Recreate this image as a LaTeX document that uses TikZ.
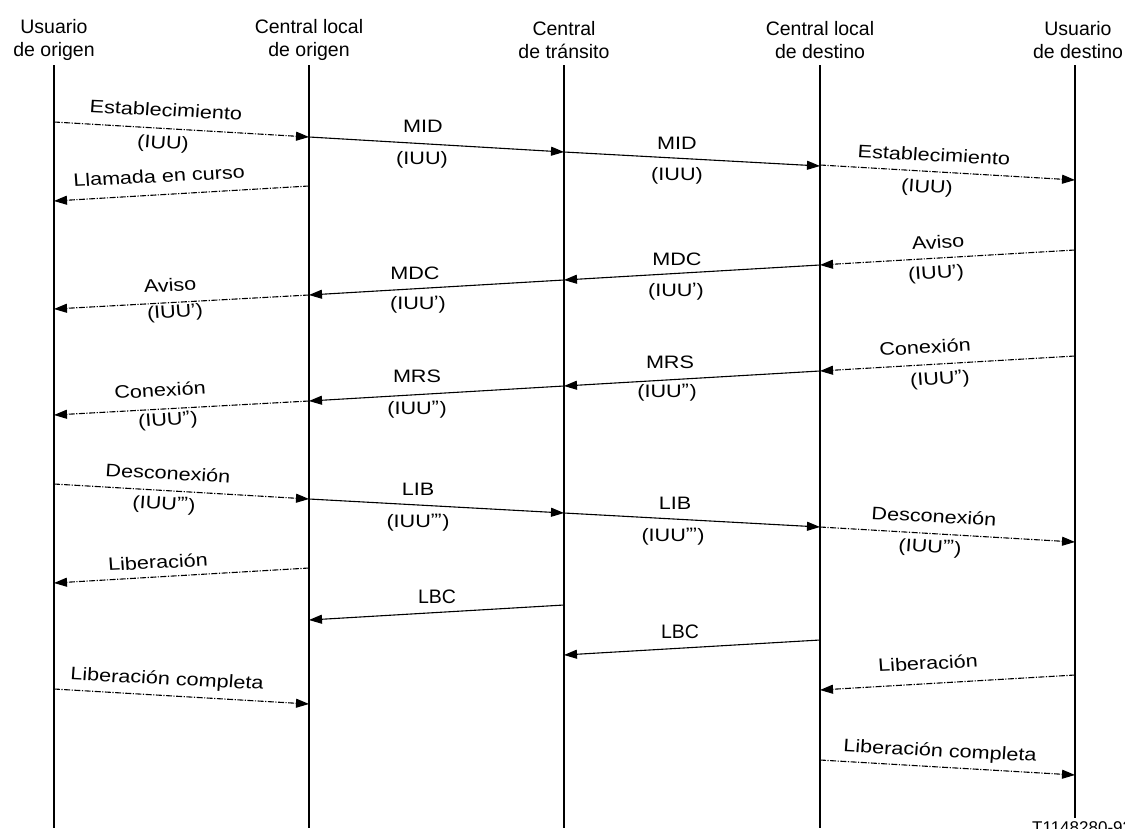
\documentclass[tikz,border=0pt]{standalone}
\usepackage{fontspec}
\setmainfont{Liberation Sans}
\usetikzlibrary{arrows.meta}

\tikzset{
  lifeline/.style={line width=1.6pt},
  hdr/.style={font=\fontsize{19.5}{23}\selectfont, align=center, inner sep=0pt},
  lbl/.style={font=\fontsize{18}{20}\selectfont, inner sep=0pt, xscale=1.2},
  tip/.style={-{Triangle[length=13pt,width=9pt]}},
  sig/.style={tip, line width=1.1pt},
  usr/.style={tip, line width=1.1pt, dash pattern=on 6pt off 1.5pt on 1.2pt off 1.5pt},
}
% prime marks after IUU
\newcommand{\pa}{\kern-0.5pt\raisebox{1pt}{’}}
\newcommand{\pb}{\kern-0.5pt\raisebox{1pt}{’\kern-1pt’}}
\newcommand{\pc}{\kern-0.5pt\raisebox{1pt}{’\kern-1pt’\kern-1pt’}}

\begin{document}
\begin{tikzpicture}[x=1pt, y=-1pt]
\useasboundingbox (0,0) rectangle (1125,828);

% participants
\node[hdr] (h1) at (54,40)   {Usuario\\de origen};
\node[hdr] (h2) at (309,40)  {Central local\\de origen};
\node[hdr] (h3) at (564,40)  {Central\\de tr\'ansito};
\node[hdr] (h4) at (820,40)  {Central local\\de destino};
\node[hdr] (h5) at (1078,40) {Usuario\\de destino};

% lifelines
\coordinate (t1) at (54,65);   \coordinate (b1) at (54,828);
\coordinate (t2) at (309,65);  \coordinate (b2) at (309,828);
\coordinate (t3) at (564,65);  \coordinate (b3) at (564,828);
\coordinate (t4) at (820,65);  \coordinate (b4) at (820,828);
\coordinate (t5) at (1075,65); \coordinate (b5) at (1075,818);
\foreach \i in {1,...,5} \draw[lifeline] (t\i) -- (b\i);

% message end points on the lifelines
\coordinate (m1a) at (54,122);   \coordinate (m1b) at (309,137);
\coordinate (m2a) at (309,137);  \coordinate (m2b) at (564,152);
\coordinate (m3a) at (564,152);  \coordinate (m3b) at (820,166);
\coordinate (m4a) at (820,165);  \coordinate (m4b) at (1075,180);
\coordinate (m5a) at (309,186);  \coordinate (m5b) at (54,201);
\coordinate (m6a) at (1075,250); \coordinate (m6b) at (820,265);
\coordinate (m7a) at (820,265);  \coordinate (m7b) at (564,280);
\coordinate (m8a) at (564,280);  \coordinate (m8b) at (309,295);
\coordinate (m9a) at (309,295);  \coordinate (m9b) at (54,309);
\coordinate (m10a) at (1075,356); \coordinate (m10b) at (820,371);
\coordinate (m11a) at (820,371);  \coordinate (m11b) at (564,386);
\coordinate (m12a) at (564,386);  \coordinate (m12b) at (309,401);
\coordinate (m13a) at (309,401);  \coordinate (m13b) at (54,415);
\coordinate (m14a) at (54,484);   \coordinate (m14b) at (309,499);
\coordinate (m15a) at (309,499);  \coordinate (m15b) at (564,513);
\coordinate (m16a) at (564,513);  \coordinate (m16b) at (820,527);
\coordinate (m17a) at (820,527);  \coordinate (m17b) at (1075,542);
\coordinate (m18a) at (309,568);  \coordinate (m18b) at (54,583);
\coordinate (m19a) at (564,605);  \coordinate (m19b) at (309,620);
\coordinate (m20a) at (820,640);  \coordinate (m20b) at (564,655);
\coordinate (m21a) at (1075,675); \coordinate (m21b) at (820,690);
\coordinate (m22a) at (54,689);   \coordinate (m22b) at (309,704);
\coordinate (m23a) at (820,760);  \coordinate (m23b) at (1075,775);

% messages
\draw[usr] (m1a) -- (m1b);
\draw[sig] (m2a) -- (m2b);
\draw[sig] (m3a) -- (m3b);
\draw[usr] (m4a) -- (m4b);
\draw[usr] (m5a) -- (m5b);
\draw[usr] (m6a) -- (m6b);
\draw[sig] (m7a) -- (m7b);
\draw[sig] (m8a) -- (m8b);
\draw[usr] (m9a) -- (m9b);
\draw[usr] (m10a) -- (m10b);
\draw[sig] (m11a) -- (m11b);
\draw[sig] (m12a) -- (m12b);
\draw[usr] (m13a) -- (m13b);
\draw[usr] (m14a) -- (m14b);
\draw[sig] (m15a) -- (m15b);
\draw[sig] (m16a) -- (m16b);
\draw[usr] (m17a) -- (m17b);
\draw[usr] (m18a) -- (m18b);
\draw[sig] (m19a) -- (m19b);
\draw[sig] (m20a) -- (m20b);
\draw[usr] (m21a) -- (m21b);
\draw[usr] (m22a) -- (m22b);
\draw[usr] (m23a) -- (m23b);

% labels
\node[lbl, rotate=-3.4] (l1)  at (166,110) {Establecimiento};
\node[lbl, rotate=-3.4] (l1b) at (163,144) {(IUU)};
\node[lbl] (l2)  at (423,126) {MID};
\node[lbl] (l2b) at (422,160) {(IUU)};
\node[lbl] (l3)  at (677,143) {MID};
\node[lbl] (l3b) at (677,176) {(IUU)};
\node[lbl, rotate=-3.4] (l4)  at (934,155) {Establecimiento};
\node[lbl, rotate=-3.4] (l4b) at (927,188) {(IUU)};
\node[lbl, rotate=3.4]  (l5)  at (159,176) {Llamada en curso};
\node[lbl, rotate=3.4]  (l6)  at (938,242) {Aviso};
\node[lbl, rotate=3.4]  (l6b) at (936,274) {(IUU\pa)};
\node[lbl] (l7)  at (677,259) {MDC};
\node[lbl] (l7b) at (676,292) {(IUU\pa)};
\node[lbl] (l8)  at (415,273) {MDC};
\node[lbl] (l8b) at (418,305) {(IUU\pa)};
\node[lbl, rotate=3.4]  (l9)  at (170,285) {Aviso};
\node[lbl, rotate=3.4]  (l9b) at (175,313) {(IUU\pa)};
\node[lbl, rotate=3.4]  (l10)  at (925,347) {Conexi\'on};
\node[lbl, rotate=3.4]  (l10b) at (940,380) {(IUU\pb)};
\node[lbl] (l11)  at (670,362) {MRS};
\node[lbl] (l11b) at (667,393) {(IUU\pb)};
\node[lbl] (l12)  at (417,376) {MRS};
\node[lbl] (l12b) at (417,410) {(IUU\pb)};
\node[lbl, rotate=3.4]  (l13)  at (160,390) {Conexi\'on};
\node[lbl, rotate=3.4]  (l13b) at (168,421) {(IUU\pb)};
\node[lbl, rotate=-3.4] (l14)  at (168,473) {Desconexi\'on};
\node[lbl, rotate=-3.4] (l14b) at (164,505) {(IUU\pc)};
\node[lbl] (l15)  at (418,489) {LIB};
\node[lbl] (l15b) at (418,523) {(IUU\pc)};
\node[lbl] (l16)  at (675,503) {LIB};
\node[lbl] (l16b) at (673,537) {(IUU\pc)};
\node[lbl, rotate=-3.4] (l17)  at (934,516) {Desconexi\'on};
\node[lbl, rotate=-3.4] (l17b) at (930,548) {(IUU\pc)};
\node[lbl, rotate=3.4]  (l18)  at (158,562) {Liberaci\'on};
\node[hdr] (l19) at (437,597) {LBC};
\node[hdr] (l20) at (680,632) {LBC};
\node[lbl, rotate=3.4]  (l21)  at (928,663) {Liberaci\'on};
\node[lbl, rotate=-3.4] (l22)  at (167,680) {Liberaci\'on completa};
\node[lbl, rotate=-3.4] (l23)  at (940,752) {Liberaci\'on completa};

% figure reference, partly cut by the lower edge
\node[font=\fontsize{17}{20}\selectfont, inner sep=0pt, anchor=north west] (ref) at (1032,821) {T1148280-93};
\end{tikzpicture}
\end{document}
